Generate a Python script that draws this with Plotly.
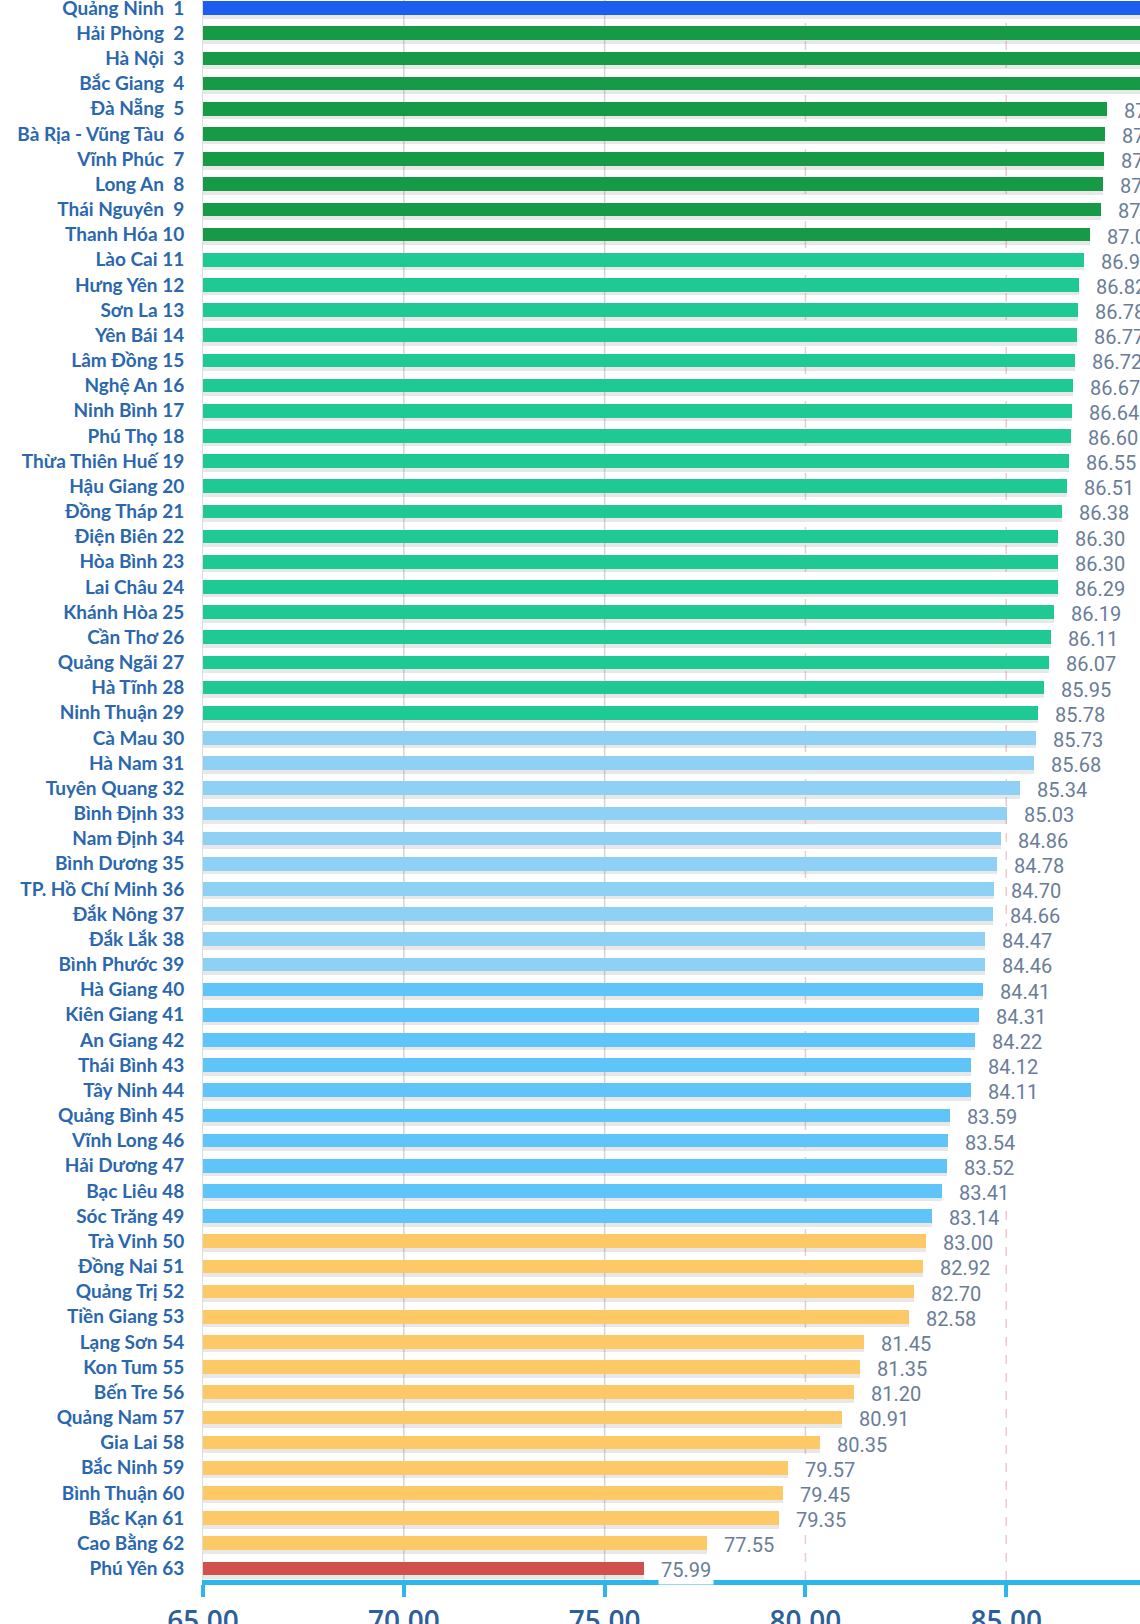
import plotly.graph_objects as go

provinces = ["Quảng Ninh", "Hải Phòng", "Hà Nội", "Bắc Giang", "Đà Nẵng", "Bà Rịa - Vũng Tàu",
             "Vĩnh Phúc", "Long An", "Thái Nguyên", "Thanh Hóa", "Lào Cai", "Hưng Yên", "Sơn La",
             "Yên Bái", "Lâm Đồng", "Nghệ An", "Ninh Bình", "Phú Thọ", "Thừa Thiên Huế", "Hậu Giang",
             "Đồng Tháp", "Điện Biên", "Hòa Bình", "Lai Châu", "Khánh Hòa", "Cần Thơ", "Quảng Ngãi",
             "Hà Tĩnh", "Ninh Thuận", "Cà Mau", "Hà Nam", "Tuyên Quang", "Bình Định", "Nam Định",
             "Bình Dương", "TP. Hồ Chí Minh", "Đắk Nông", "Đắk Lắk", "Bình Phước", "Hà Giang",
             "Kiên Giang", "An Giang", "Thái Bình", "Tây Ninh", "Quảng Bình", "Vĩnh Long", "Hải Dương",
             "Bạc Liêu", "Sóc Trăng", "Trà Vinh", "Đồng Nai", "Quảng Trị", "Tiền Giang", "Lạng Sơn",
             "Kon Tum", "Bến Tre", "Quảng Nam", "Gia Lai", "Bắc Ninh", "Bình Thuận", "Bắc Kạn",
             "Cao Bằng", "Phú Yên"]

scores = [91.24, 89.60, 89.22, 88.56, 87.52, 87.47, 87.43, 87.41, 87.37, 87.09,
          86.93, 86.82, 86.78, 86.77, 86.72, 86.67, 86.64, 86.60, 86.55, 86.51,
          86.38, 86.30, 86.30, 86.29, 86.19, 86.11, 86.07, 85.95, 85.78, 85.73,
          85.68, 85.34, 85.03, 84.86, 84.78, 84.70, 84.66, 84.47, 84.46, 84.41,
          84.31, 84.22, 84.12, 84.11, 83.59, 83.54, 83.52, 83.41, 83.14, 83.00,
          82.92, 82.70, 82.58, 81.45, 81.35, 81.20, 80.91, 80.35, 79.57, 79.45,
          79.35, 77.55, 75.99]

# colour group of each rank band: (first rank, last rank, colour)
groups = [(1, 1, "#1c5cf0"), (2, 10, "#169a45"), (11, 29, "#1ec993"),
          (30, 39, "#8fd0f5"), (40, 49, "#5fc4f7"), (50, 62, "#fdc966"), (63, 63, "#d1504e")]

x_ticks = [65, 70, 75, 80, 85]
x_range = [65, 88.33]

ranks = list(range(1, len(provinces) + 1))
labels = [f"{p}  {r}" if r < 10 else f"{p} {r}" for p, r in zip(provinces, ranks)]
colors = []
for r in ranks:
    for a, b, c in groups:
        if a <= r <= b:
            colors.append(c)
            break

ypos = [r - 1 for r in ranks]

fig = go.Figure()
# soft shadow under each bar
fig.add_trace(go.Bar(
    x=[s - x_range[0] for s in scores], y=ypos, base=x_range[0], orientation="h",
    width=0.5, offset=-0.08, marker=dict(color="rgba(110,110,110,0.16)", line=dict(width=0)),
    hoverinfo="skip", showlegend=False))
fig.add_trace(go.Bar(
    x=[s - x_range[0] for s in scores], y=ypos, base=x_range[0], orientation="h",
    width=0.54, offset=-0.27, marker=dict(color=colors, line=dict(width=0)),
    showlegend=False))

annotations = []
for yv, s in zip(ypos, scores):
    annotations.append(dict(
        x=s, y=yv, xref="x", yref="y", text=f"{s:.2f}", showarrow=False,
        xanchor="left", yanchor="middle", xshift=14, yshift=-2,
        bgcolor="white", borderpad=2,
        font=dict(family="Roboto", size=20, color="#6a7d98")))

shapes = []
for t in x_ticks[1:]:
    pink = t >= 80
    shapes.append(dict(
        type="line", xref="x", yref="paper", x0=t, x1=t, y0=0, y1=1, layer="below",
        line=dict(color="#efc9cc" if pink else "#d4d4d8", width=1.5, dash="dash" if pink else "solid")))

fig.update_layout(
    width=1140, height=1624,
    margin=dict(l=203, r=0, t=0, b=44),
    paper_bgcolor="white", plot_bgcolor="white",
    barmode="overlay", bargap=0,
    annotations=annotations, shapes=shapes,
    xaxis=dict(range=x_range, tickvals=x_ticks, ticktext=[f"{t:.2f}" for t in x_ticks],
               automargin=False,
               showgrid=False, zeroline=False, showline=True, linecolor="#2cb6ea", linewidth=5,
               ticks="outside", ticklen=12, tickwidth=4, tickcolor="#2cb6ea",
               ticklabelstandoff=0,
               tickfont=dict(family="Open Sans", size=28, color="#2d5f9b", weight=600)),
    yaxis=dict(range=[62.46, -0.32], tickvals=ypos, ticktext=labels,
               automargin=False, ticklabeloverflow="allow",
               showgrid=False, zeroline=False, showline=True, linecolor="#dddddd", linewidth=1,
               ticks="", ticklabelstandoff=14,
               tickfont=dict(family="Lato", size=19, color="#2a67ad", weight=700)),
)

fig.write_html("out.html", config={"displayModeBar": False},
               post_script="document.body.style.margin='0';document.body.style.overflow='hidden';")
